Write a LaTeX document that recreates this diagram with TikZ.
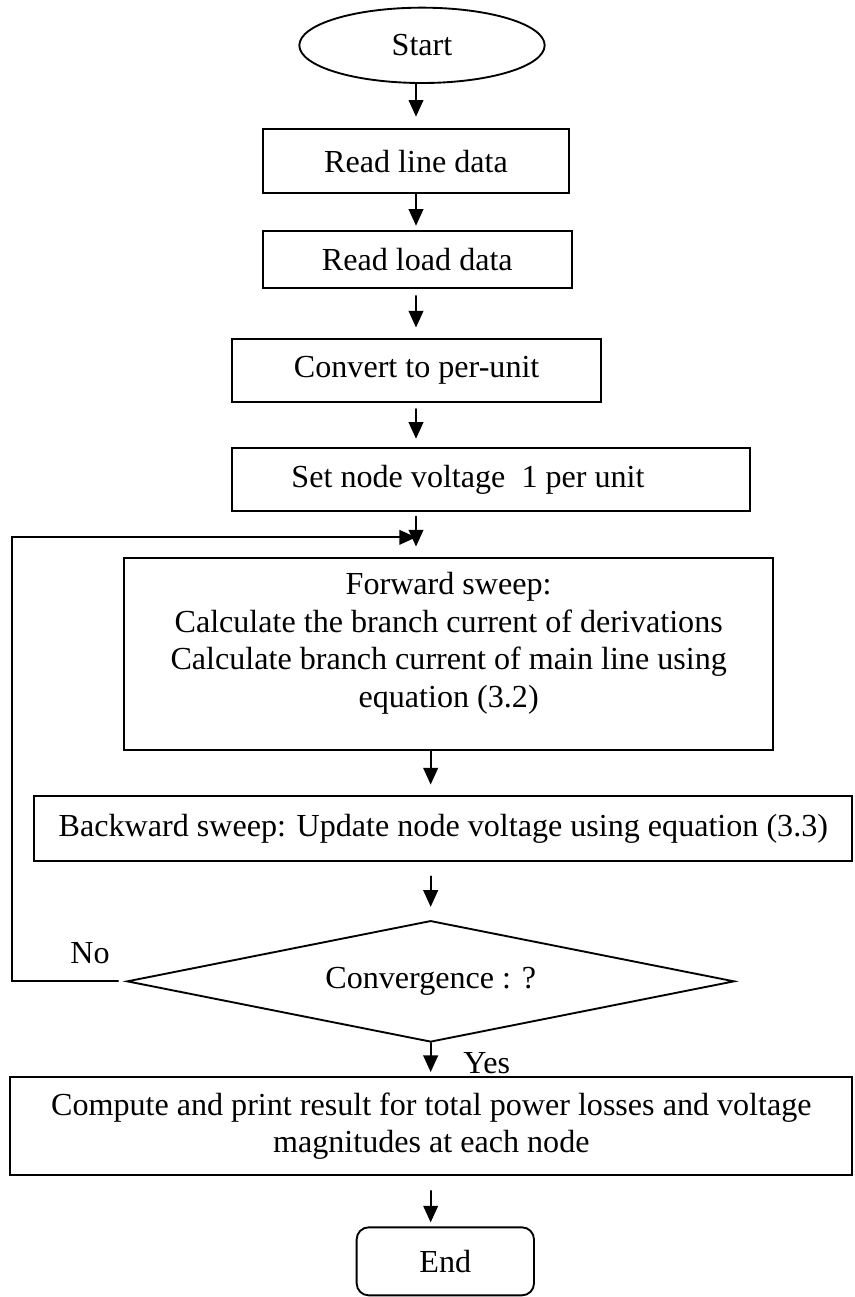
\documentclass[tikz,border=0pt]{standalone}
\usepackage{fontspec}
\setmainfont{Liberation Serif}
\usetikzlibrary{shapes.geometric,arrows.meta}

\tikzset{
	box/.style={draw,line width=0.8pt,rectangle,inner sep=2pt,align=center},
	arrow/.style={line width=0.8pt,-{Triangle[length=0.25cm,width=0.22cm]}},
	flow/.style={arrow,shorten >=4.5pt}
}

\begin{document}
\begin{tikzpicture}[line cap=round,x=1.0cm,y=1.0cm,font=\fontsize{13.7}{16}\selectfont]

	\useasboundingbox (0,0) rectangle (12.81,-19.455);
	%\draw [xstep=1.0cm,ystep=1.0cm] (0,0) grid (12.81,-19.455);

	\node [draw,line width=0.8pt,ellipse,minimum width=3.68cm,minimum height=1.13cm] (start) at (6.33,-0.68) {Start};
	\node [box,minimum width=4.59cm,minimum height=0.96cm] (readline) at (6.24,-2.42) {Read line data};
	\node [box,minimum width=4.64cm,minimum height=0.86cm] (readload) at (6.26,-3.89) {Read load data};
	\node [box,minimum width=5.54cm,minimum height=0.95cm] (convert) at (6.25,-5.56) {Convert to per-unit};
	\node [box,minimum width=7.77cm,minimum height=0.95cm] (setv) at (7.37,-7.19) {Set node voltage~\ 1 per unit\hspace*{0.7cm}};
	\node [box,minimum width=9.74cm,minimum height=2.88cm,text depth=12pt] (forward) at (6.73,-9.81) {Forward sweep:\\ Calculate the branch current of derivations\\ Calculate branch current of main line using\\ equation (3.2)};
	\node [box,minimum width=12.27cm,minimum height=0.98cm] (backward) at (6.65,-12.43) {Backward sweep: Update node voltage using equation (3.3)};
	\node [draw,line width=0.8pt,diamond,aspect=5,inner sep=0pt,minimum width=9.11cm,minimum height=1.82cm] (conv) at (6.46,-14.72) {Convergence : ?};
	\node [box,minimum width=12.63cm,minimum height=1.47cm] (compute) at (6.47,-16.89) {Compute and print result for total power losses and voltage\\ magnitudes at each node};
	\node [box,rounded corners=0.18cm,minimum width=2.66cm,minimum height=1.02cm] (finish) at (6.68,-18.92) {End};

	\node (no) at (1.35,-14.3) {No};
	\node (yes) at (7.3,-15.95) {Yes};
	\coordinate (back) at (0.18,-8.06);

	\draw [flow,shorten >=5pt] (start.south -| readline.north) -- (readline.north);
	\draw [flow,shorten >=1.7pt] (readline.south) -- (readline.south |- readload.north);
	\draw [flow,shorten <=3pt] (readload.south -| readline.south) -- (readline.south |- convert.north);
	\draw [flow,shorten <=2.5pt,shorten >=3.4pt] (convert.south -| readline.south) -- (readline.south |- setv.north);
	\draw [flow,shorten <=2pt] (setv.south -| readline.south) -- (readline.south |- forward.north);
	\draw [flow] (forward.south -| conv.north) -- (conv.north |- backward.north);
	\draw [flow,shorten <=6pt,shorten >=5.5pt] (backward.south -| conv.north) -- (conv.north);
	\draw [flow,shorten >=1.7pt] (conv.south) -- (conv.south |- compute.north);
	\draw [flow,shorten <=6.4pt,shorten >=1.7pt] (compute.south -| conv.south) -- (conv.south |- finish.north);

	\draw [arrow] ([xshift=-0.12cm]conv.west) -| (back) -- (back -| readline.south);
\end{tikzpicture}
\end{document}
